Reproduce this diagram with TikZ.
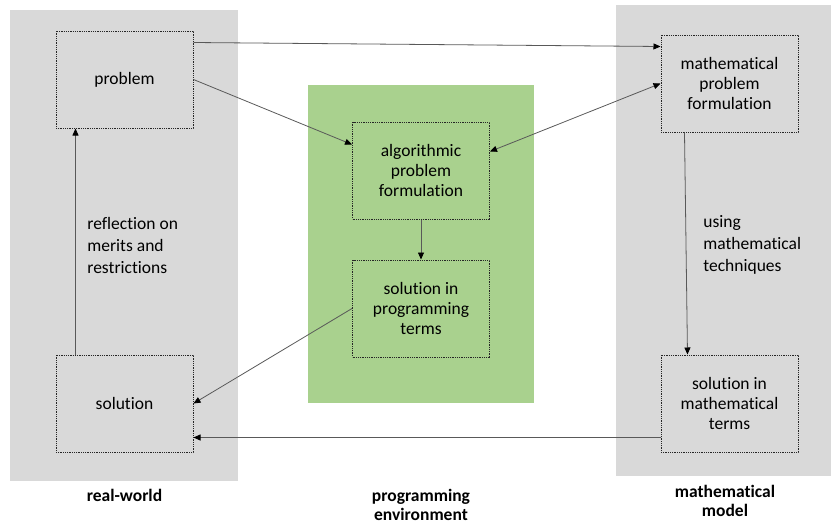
\documentclass[tikz,border=0pt]{standalone}
\usepackage{fontspec}
\setmainfont{Carlito}[Ligatures=NoCommon]
\usetikzlibrary{arrows.meta}

\definecolor{panelgray}{HTML}{D9D9D9}
\definecolor{envgreen}{HTML}{A9D18E}
\definecolor{linegray}{HTML}{595959}

\begin{document}
\begin{tikzpicture}[->,>={Triangle[length=7pt,width=6pt,color=black]},x=1pt,y=-1pt,
  line width=0.8pt,draw=linegray,
  font=\fontsize{17.5}{20}\selectfont,
  box/.style={draw=black!85,line width=1pt,dash pattern=on 1pt off 0.8pt,
    minimum width=137pt,minimum height=97pt,align=center,inner sep=0pt},
  note/.style={anchor=west,align=left,inner sep=0pt,font=\fontsize{17.5}{22}\selectfont},
  caption/.style={align=center,inner sep=0pt,font=\fontsize{17.5}{18.5}\selectfont\bfseries}]
  \useasboundingbox (0,0) rectangle (831,525);
  % background panels
  \fill[panelgray] (10,10) rectangle (238,481);
  \fill[envgreen] (308,85) rectangle (534,403);
  \fill[panelgray] (616,5) rectangle (831,476);

  \node[box] (problem) at (124.5,79.5) {problem};
  \node[box] (solution) at (124.5,403.5) {solution};
  \node[box] (algo) at (421,170.5) {algorithmic\\problem\\formulation};
  \node[box] (progsol) at (421,308.5) {solution in\\programming\\terms};
  \node[box] (mathprob) at (729.5,83.5) {mathematical\\problem\\formulation};
  \node[box] (mathsol) at (729.5,403.5) {solution in\\mathematical\\terms};

  \node[note] (reflect) at (87,245) {reflection on\\merits and\\restrictions};
  \node[note] (using) at (703,245) {using\\mathematical\\techniques};

  \node[caption] (realworld) at (124.5,495) {real-world};
  \node[caption] (progenv) at (421,505) {programming\\environment};
  \node[caption] (mathmodel) at (725,501) {mathematical\\model};

  % connectors
  \draw ([yshift=-12pt]problem.north east) -- ([yshift=-12pt]mathprob.north west);
  \draw (problem.east) -- ([yshift=-23pt]algo.north west);
  \draw[<->] ([yshift=-30pt]algo.north east) -- (mathprob.west);
  \draw (algo.south) -- (progsol.north);
  \draw (progsol.west) -- (solution.east);
  \draw ([yshift=15pt]mathsol.south west) -- ([yshift=15pt]solution.south east);
  \draw ([xshift=24pt]mathprob.south west) -- ([xshift=27pt]mathsol.north west);
  \draw ([xshift=20pt]solution.north west) -- ([xshift=20pt]problem.south west);
\end{tikzpicture}
\end{document}
